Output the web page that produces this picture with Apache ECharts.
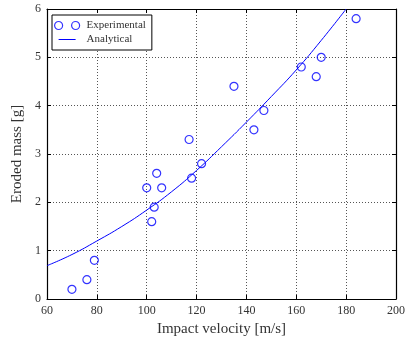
<!DOCTYPE html>
<html>
<head>
<meta charset="utf-8">
<script src="https://cdn.jsdelivr.net/npm/echarts@6/dist/echarts.min.js"></script>
<style>html,body{margin:0;padding:0;background:#fff}#c{width:408px;height:343px}</style>
</head>
<body>
<div id="c"></div>
<script>
// Experimental measurements
var expVelocity = [70, 76, 79, 100, 102, 103, 104, 106, 117, 118, 122, 135, 143, 147, 162, 168, 170, 184];
var expMass     = [0.2, 0.4, 0.8, 2.3, 1.6, 1.9, 2.6, 2.3, 3.3, 2.5, 2.8, 4.4, 3.5, 3.9, 4.8, 4.6, 5.0, 5.8];
// Analytical curve
var anaVelocity = [60, 70, 80, 90, 100, 110, 120, 130, 140, 150, 160, 170, 180];
var anaMass     = [0.69, 0.92, 1.20, 1.50, 1.84, 2.22, 2.66, 3.15, 3.66, 4.19, 4.74, 5.35, 6.0];
var xTicks = [60, 80, 100, 120, 140, 160, 180, 200];
var yTicks = [0, 1, 2, 3, 4, 5, 6];
var seriesNames = ['Experimental', 'Analytical'];

var FONT = 'Liberation Serif';
var TXT = '#333';
function zip(a, b) { return a.map(function (v, i) { return [v, b[i]]; }); }

var gridLine = { show: true, lineStyle: { color: '#555', width: 1, type: [1, 2] } };
function xAx(pos, labels) {
  return {
    type: 'value', position: pos, min: xTicks[0], max: xTicks[xTicks.length - 1], interval: 20,
    name: labels ? 'Impact velocity [m/s]' : '', nameLocation: 'middle', nameGap: 21,
    nameTextStyle: { fontFamily: FONT, fontSize: 15, color: TXT },
    axisLine: { show: true, onZero: false, lineStyle: { color: '#000', width: 1.2 } },
    axisTick: { show: true, inside: true, length: 4, lineStyle: { color: '#000' } },
    axisLabel: { show: labels, margin: 6, fontFamily: FONT, fontSize: 12, color: TXT },
    splitLine: labels ? gridLine : { show: false }
  };
}
function yAx(pos, labels) {
  return {
    type: 'value', position: pos, min: yTicks[0], max: yTicks[yTicks.length - 1], interval: 1,
    name: labels ? 'Eroded mass [g]' : '', nameLocation: 'middle', nameGap: 19,
    nameTextStyle: { fontFamily: FONT, fontSize: 15, color: TXT },
    axisLine: { show: true, onZero: false, lineStyle: { color: '#000', width: 1.2 } },
    axisTick: { show: true, inside: true, length: 4, lineStyle: { color: '#000' } },
    axisLabel: { show: labels, margin: 6, fontFamily: FONT, fontSize: 12, color: TXT },
    splitLine: labels ? gridLine : { show: false }
  };
}

var chart = echarts.init(document.getElementById('c'), null, { renderer: 'canvas' });
chart.setOption({
  animation: false,
  backgroundColor: '#fff',
  grid: { left: 47, right: 10, top: 9, bottom: 44, containLabel: false },
  legend: {
    orient: 'vertical', left: 52, top: 15,
    backgroundColor: '#fff', borderColor: '#000', borderWidth: 1,
    padding: [5, 6, 5, 2], itemGap: 3, itemWidth: 29, itemHeight: 8,
    textStyle: { fontFamily: FONT, fontSize: 11, color: TXT },
    data: [
      { name: seriesNames[0], icon: 'path://M0,4a4,4 0 1,0 8,0a4,4 0 1,0 -8,0M17,4a4,4 0 1,0 8,0a4,4 0 1,0 -8,0',
        itemStyle: { color: 'rgba(0,0,0,0)', borderColor: '#0000ff', borderWidth: 1.2 } },
      { name: seriesNames[1], icon: 'path://M0,0M0,8M0,3.5H17V4.5H0Z',
        itemStyle: { color: '#0000ff', borderWidth: 0 } }
    ]
  },
  xAxis: [xAx('bottom', true), xAx('top', false)],
  yAxis: [yAx('left', true), yAx('right', false)],
  series: [
    {
      name: seriesNames[1], type: 'line', xAxisIndex: 0, yAxisIndex: 0,
      data: zip(anaVelocity, anaMass), smooth: true, symbol: 'none',
      color: '#0000ff', lineStyle: { color: '#0000ff', width: 1 }, z: 2
    },
    {
      name: seriesNames[0], type: 'scatter', xAxisIndex: 0, yAxisIndex: 0,
      data: zip(expVelocity, expMass), symbol: 'circle', symbolSize: 8,
      itemStyle: { color: 'rgba(0,0,0,0)', borderColor: '#0000ff', borderWidth: 1.2 }, z: 3
    }
  ]
});
</script>
</body>
</html>
